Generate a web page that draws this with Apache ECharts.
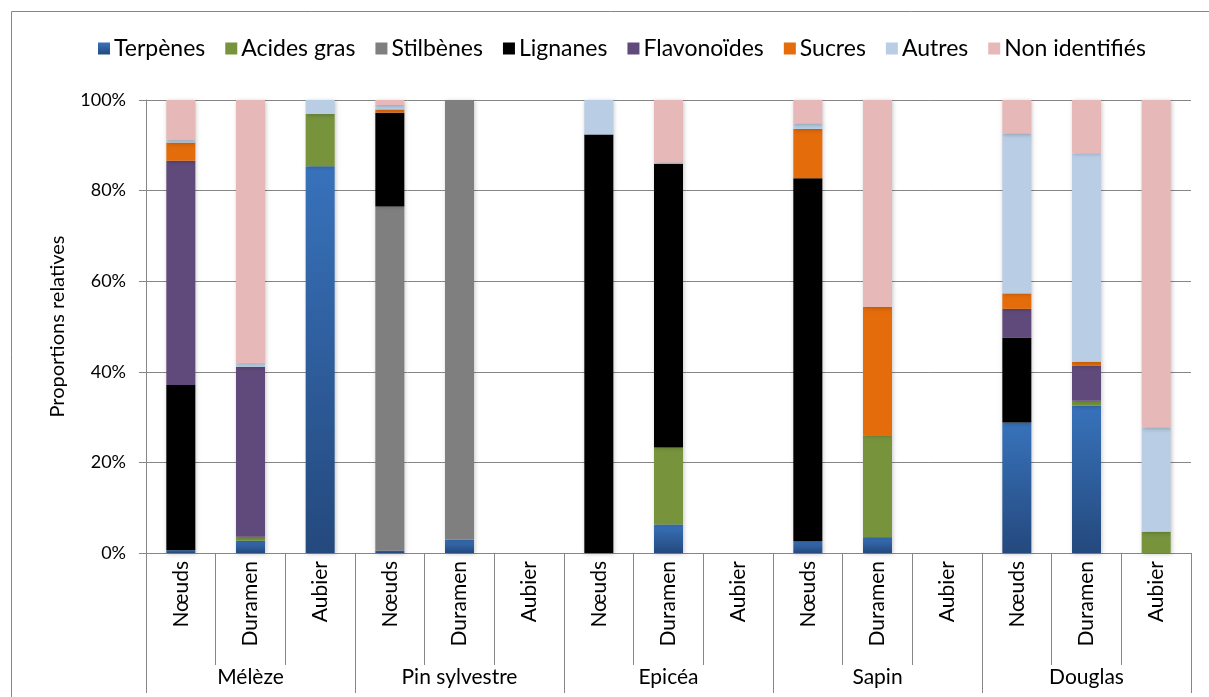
<!DOCTYPE html>
<html>
<head>
<meta charset="utf-8">
<script src="https://cdn.jsdelivr.net/npm/echarts@6/dist/echarts.min.js"></script>
<style>html,body{margin:0;padding:0;background:#fff;}#c{width:1209px;height:697px;}</style>
</head>
<body>
<div id="c"></div>
<script>
const parts = ['Nœuds','Duramen','Aubier','Nœuds','Duramen','Aubier','Nœuds','Duramen','Aubier','Nœuds','Duramen','Aubier','Nœuds','Duramen','Aubier'];
const species = ['Mélèze','Pin sylvestre','Epicéa','Sapin','Douglas'];
const yTicks = [0,20,40,60,80,100];

const terpenes   = [0.6, 2.7, 85.4, 0.5, 2.9, null, null, 6.3, null, 2.6, 3.5, null, 28.8, 32.5, null];
const acidesGras = [null, 0.9, 11.5, null, null, null, null, 17.0, null, null, 22.5, null, null, 1.1, 4.7];
const stilbenes  = [null, null, null, 76.0, 97.1, null, null, null, null, null, null, null, null, null, null];
const lignanes   = [36.5, null, null, 20.7, null, null, 92.4, 62.6, null, 80.1, null, null, 18.7, null, null];
const flavonoides= [49.5, 37.5, null, null, null, null, null, null, null, null, null, null, 6.4, 7.8, null];
const sucres     = [4.0, null, null, 0.7, null, null, null, null, null, 10.9, 28.3, null, 3.4, 0.8, null];
const autres     = [0.6, 0.8, 3.1, 1.0, null, null, 7.6, 0.3, null, 1.2, null, null, 35.3, 46.0, 23.0];
const nonIdent   = [8.8, 58.1, null, 1.1, null, null, null, 13.8, null, 5.2, 45.7, null, 7.4, 11.8, 72.3];

const seriesDefs = [
  ['Terpènes', terpenes, new echarts.graphic.LinearGradient(0,0,0,1,[{offset:0,color:'#3872bb'},{offset:1,color:'#24497d'}])],
  ['Acides gras', acidesGras, '#77933c'],
  ['Stilbènes', stilbenes, '#7f7f7f'],
  ['Lignanes', lignanes, '#000000'],
  ['Flavonoïdes', flavonoides, '#604a7b'],
  ['Sucres', sucres, '#e46c0a'],
  ['Autres', autres, '#b9cde5'],
  ['Non identifiés', nonIdent, '#e6b9b8']
];

const FONT = 'Lato';
const chart = echarts.init(document.getElementById('c'));
chart.setOption({
  animation: false,
  backgroundColor: '#ffffff',
  textStyle: {fontFamily: FONT, color: '#000'},
  graphic: [{type:'rect', shape:{x:11.5,y:11.5,width:1240,height:720}, style:{fill:'none', stroke:'#868686', lineWidth:1}, silent:true}],
  legend: {
    left: 93, top: 32, itemWidth: 12, itemHeight: 12, itemGap: 20, icon: 'rect',
    textStyle: {fontFamily: FONT, fontSize: 23, color: '#000', padding:[0,0,0,-1]},
    data: seriesDefs.map(s => s[0])
  },
  grid: {left: 146, right: 18, top: 100, bottom: 144},
  xAxis: [{
    type: 'category', data: parts, position: 'bottom',
    axisLine: {show: true, lineStyle: {color: '#868686', width: 1}},
    axisTick: {show: true, interval: 0, length: 112, lineStyle: {color: '#868686'}},
    axisLabel: {interval: 0, rotate: 90, margin: 8, fontSize: 21, color: '#000', fontFamily: FONT}
  },{
    type: 'category', data: species, position: 'bottom', offset: 112,
    axisLine: {show: false},
    axisTick: {show: true, interval: 0, length: 28, lineStyle: {color: '#868686'}},
    axisLabel: {interval: 0, margin: 2, fontSize: 21, color: '#000', fontFamily: FONT}
  }],
  yAxis: {
    type: 'value', min: yTicks[0], max: yTicks[yTicks.length-1], interval: 20,
    name: 'Proportions relatives', nameLocation: 'middle', nameRotate: 90, nameGap: 78,
    nameTextStyle: {fontSize: 20, color: '#000', fontFamily: FONT},
    axisLine: {show: true, lineStyle: {color: '#868686'}},
    axisTick: {show: true, length: 7, lineStyle: {color: '#868686'}},
    axisLabel: {formatter: '{value}%', fontSize: 18, color: '#000', margin: 20, fontFamily: FONT},
    splitLine: {show: true, lineStyle: {color: '#868686', width: 1}}
  },
  series: seriesDefs.map(s => ({
    name: s[0], type: 'bar', stack: 'total', xAxisIndex: 0, barWidth: 29,
    data: s[1],
    itemStyle: {color: s[2], shadowBlur: 4, shadowColor: 'rgba(0,0,0,0.22)', shadowOffsetX: 1, shadowOffsetY: 1}
  }))
});
</script>
</body>
</html>
